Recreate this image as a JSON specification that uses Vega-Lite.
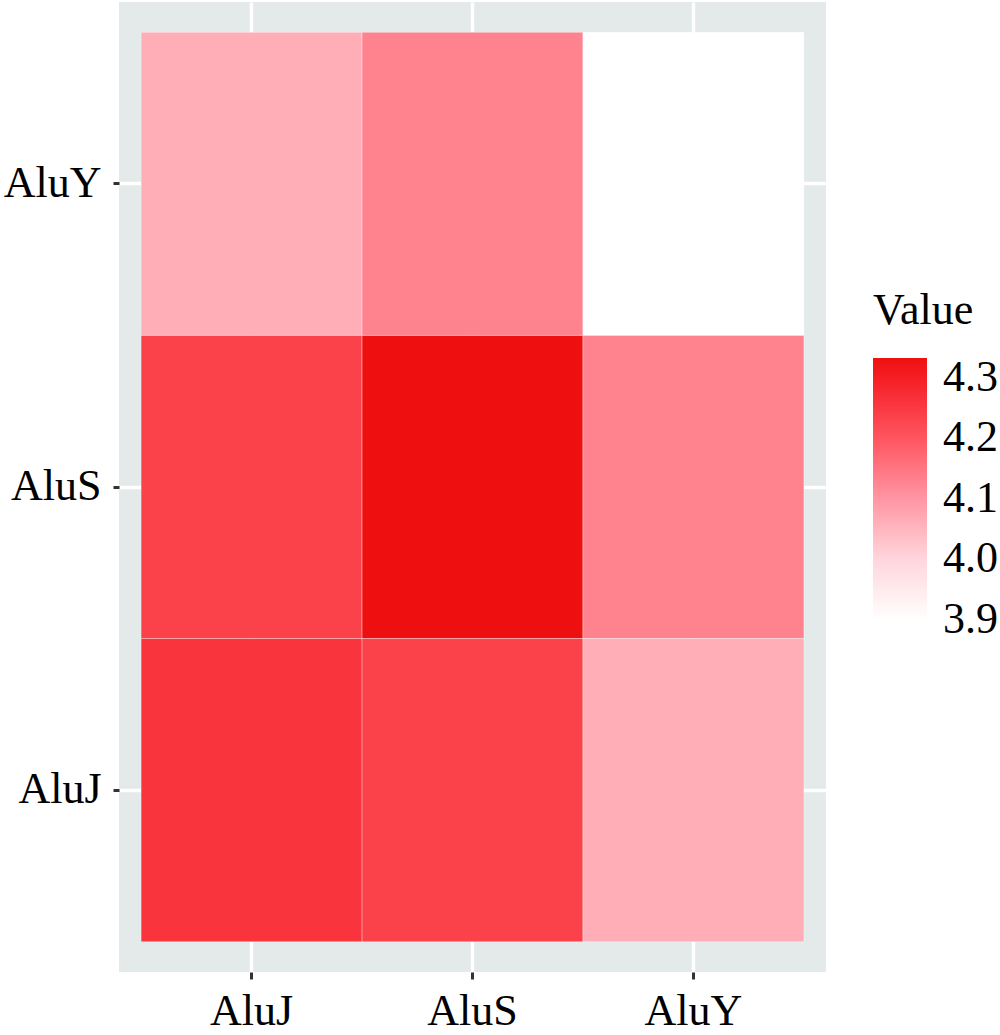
{
  "$schema": "https://vega.github.io/schema/vega-lite/v6.json",
  "width": 707,
  "height": 970,
  "autosize": "none",
  "padding": {"left": 119, "top": 2, "right": 174, "bottom": 63},
  "background": "white",
  "config": {
    "view": {"fill": "#E4E9E9", "stroke": null},
    "font": "Liberation Serif, Tinos, Times New Roman, DejaVu Serif, serif"
  },
  "data": {
    "values": [
      {"x": "AluJ", "y": "AluY", "value": 4.063},
      {"x": "AluS", "y": "AluY", "value": 4.13},
      {"x": "AluY", "y": "AluY", "value": 3.9},
      {"x": "AluJ", "y": "AluS", "value": 4.235},
      {"x": "AluS", "y": "AluS", "value": 4.333},
      {"x": "AluY", "y": "AluS", "value": 4.13},
      {"x": "AluJ", "y": "AluJ", "value": 4.26},
      {"x": "AluS", "y": "AluJ", "value": 4.235},
      {"x": "AluY", "y": "AluJ", "value": 4.063}
    ]
  },
  "mark": {"type": "rect", "stroke": "#ffffff", "strokeWidth": 1, "strokeOpacity": 0.35},
  "encoding": {
    "x": {
      "field": "x",
      "type": "nominal",
      "sort": ["AluJ", "AluS", "AluY"],
      "scale": {"paddingInner": 0, "paddingOuter": 0.1},
      "axis": {
        "title": null,
        "orient": "bottom",
        "zindex": 0,
        "bandPosition": 0.5,
        "grid": true,
        "gridColor": "#ffffff",
        "gridWidth": 3.5,
        "domain": false,
        "ticks": true,
        "tickColor": "#333333",
        "tickSize": 7,
        "tickWidth": 3,
        "labelAngle": 0,
        "labelFont": "Liberation Serif, Tinos, Times New Roman, DejaVu Serif, serif",
        "labelFontSize": 44,
        "labelColor": "#000000",
        "labelPadding": 10
      }
    },
    "y": {
      "field": "y",
      "type": "nominal",
      "sort": ["AluY", "AluS", "AluJ"],
      "scale": {"paddingInner": 0, "paddingOuter": 0.1},
      "axis": {
        "title": null,
        "orient": "left",
        "zindex": 0,
        "bandPosition": 0.5,
        "grid": true,
        "gridColor": "#ffffff",
        "gridWidth": 3.5,
        "domain": false,
        "ticks": true,
        "tickColor": "#333333",
        "tickSize": 6,
        "tickWidth": 3,
        "labelFont": "Liberation Serif, Tinos, Times New Roman, DejaVu Serif, serif",
        "labelFontSize": 44,
        "labelColor": "#000000",
        "labelPadding": 12
      }
    },
    "color": {
      "field": "value",
      "type": "quantitative",
      "scale": {
        "domain": [3.9, 4.0, 4.1, 4.2, 4.3, 4.333],
        "range": ["#FFFFFF", "#FFD6DC", "#FF96A3", "#FF5560", "#F51E24", "#EE1010"],
        "interpolate": "rgb"
      },
      "legend": {
        "title": "Value",
        "orient": "none",
        "legendX": 754,
        "legendY": 287,
        "direction": "vertical",
        "gradientLength": 262,
        "gradientThickness": 54,
        "gradientStrokeWidth": 0,
        "values": [3.9, 4.0, 4.1, 4.2, 4.3],
        "format": ".1f",
        "labelOverlap": false,
        "labelFont": "Liberation Serif, Tinos, Times New Roman, DejaVu Serif, serif",
        "labelFontSize": 44,
        "labelColor": "#000000",
        "labelOffset": 16,
        "labelBaseline": "middle",
        "titleFont": "Liberation Serif, Tinos, Times New Roman, DejaVu Serif, serif",
        "titleFontSize": 44,
        "titleFontWeight": "normal",
        "titleColor": "#000000",
        "titlePadding": 25,
        "padding": 0,
        "encode": {
          "labels": {"update": {"baseline": {"value": "middle"}}}
        }
      }
    }
  }
}
